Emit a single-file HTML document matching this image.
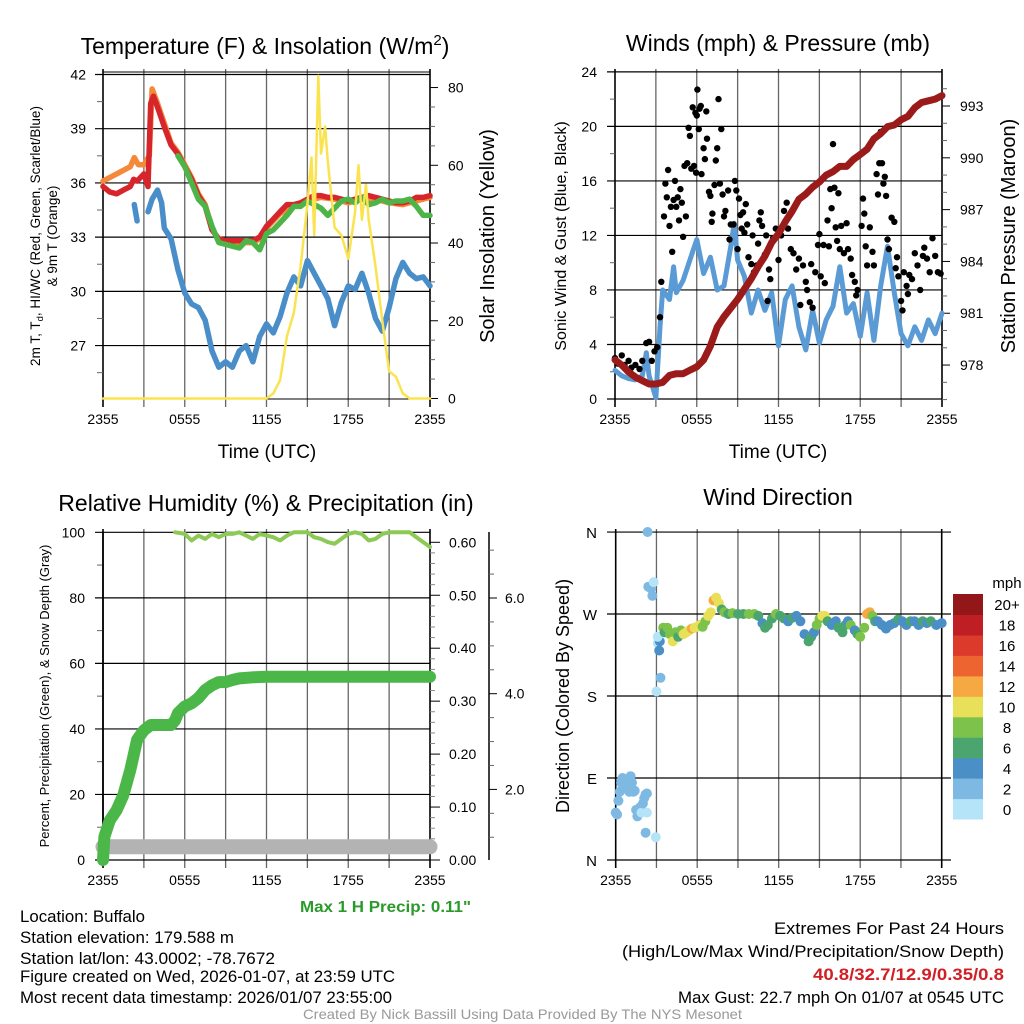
<!DOCTYPE html>
<html><head><meta charset="utf-8"><style>
html,body{margin:0;padding:0;background:#fff}
svg{display:block;font-family:"Liberation Sans",Arial,sans-serif}
</style></head><body>
<svg id="fig" width="1024" height="1024" viewBox="0 0 1024 1024" xmlns="http://www.w3.org/2000/svg">
<rect width="1024" height="1024" fill="#fff"/>
<g font-size="23" text-anchor="middle" fill="#000">
<text x="265" y="54">Temperature (F) &amp; Insolation (W/m<tspan dy="-9" font-size="15">2</tspan><tspan dy="9">)</tspan></text>
<text x="778" y="51">Winds (mph) &amp; Pressure (mb)</text>
<text x="266" y="511">Relative Humidity (%) &amp; Precipitation (in)</text>
<text x="778" y="505">Wind Direction</text>
</g>
<g id="layer"></g>
<g fill="#000" text-anchor="middle">
<text font-size="13.5" transform="translate(40,236) rotate(-90)">2m T, T<tspan font-size="9.5" dy="3">d</tspan><tspan dy="-3">, HI/WC (Red, Green, Scarlet/Blue)</tspan></text>
<text font-size="13.5" transform="translate(57,236) rotate(-90)">&amp; 9m T (Orange)</text>
<text font-size="20" transform="translate(494,236) rotate(-90)">Solar Insolation (Yellow)</text>
<text font-size="19" x="267" y="458">Time (UTC)</text>
<text font-size="16" transform="translate(566,236) rotate(-90)">Sonic Wind &amp; Gust (Blue, Black)</text>
<text font-size="20" transform="translate(1015,236) rotate(-90)">Station Pressure (Maroon)</text>
<text font-size="19" x="778" y="458">Time (UTC)</text>
<text font-size="13" transform="translate(49,696) rotate(-90)">Percent, Precipitation (Green), &amp; Snow Depth (Gray)</text>
<text font-size="18" transform="translate(569,696) rotate(-90)">Direction (Colored By Speed)</text>
<text font-size="15" x="1007" y="588">mph</text>
</g>
<g font-size="17" fill="#000">
<text x="300" y="912" font-size="16" font-weight="bold" fill="#2a9a2a" textLength="171" lengthAdjust="spacingAndGlyphs">Max 1 H Precip: 0.11"</text>
<text x="20" y="922" textLength="125" lengthAdjust="spacingAndGlyphs">Location: Buffalo</text>
<text x="20" y="943" textLength="214" lengthAdjust="spacingAndGlyphs">Station elevation: 179.588 m</text>
<text x="20" y="964" textLength="255" lengthAdjust="spacingAndGlyphs">Station lat/lon: 43.0002; -78.7672</text>
<text x="20" y="982" textLength="375" lengthAdjust="spacingAndGlyphs">Figure created on Wed, 2026-01-07, at 23:59 UTC</text>
<text x="20" y="1003" textLength="372" lengthAdjust="spacingAndGlyphs">Most recent data timestamp: 2026/01/07 23:55:00</text>
<text x="774" y="934" textLength="230" lengthAdjust="spacingAndGlyphs">Extremes For Past 24 Hours</text>
<text x="622" y="957" textLength="382" lengthAdjust="spacingAndGlyphs">(High/Low/Max Wind/Precipitation/Snow Depth)</text>
<text x="813" y="980" font-weight="bold" fill="#d02026" textLength="191" lengthAdjust="spacingAndGlyphs">40.8/32.7/12.9/0.35/0.8</text>
<text x="678" y="1003" textLength="326" lengthAdjust="spacingAndGlyphs">Max Gust: 22.7 mph On 01/07 at 0545 UTC</text>
<text x="303" y="1019" font-size="14" fill="#999" textLength="439" lengthAdjust="spacingAndGlyphs">Created By Nick Bassill Using Data Provided By The NYS Mesonet</text>
</g>
</svg>
<script>
// ---- Temperature panel data (hours since 2355 UTC) ----
const tHalf = [0,0.5,1,1.5,2,2.5,3,3.5,4,4.5,5,5.5,6,6.5,7,7.5,8,8.5,9,9.5,10,10.5,11,11.5,12,12.5,13,13.5,14,14.5,15,15.5,16,16.5,17,17.5,18,18.5,19,19.5,20,20.5,21,21.5,22,22.5,23,23.5,24];
const redTimes = [0,0.5,1,1.5,2,2.25,2.5,3,3.3,3.5,3.7,4,4.5,5,5.5,6,6.5,7,7.5,8,8.5,9,10,11,11.5,12,12.5,13,13.5,14,14.5,15,15.5,16,16.5,17,17.5,18,18.5,19,19.5,20,20.5,21,21.5,22,22.5,23,23.5,24];
const redTemp = [35.8,35.5,35.4,35.6,35.8,36.2,36.1,36.5,35.8,40.4,40.8,40.2,39.1,38.1,37.6,36.9,36.2,35.3,34.7,33.4,32.9,32.8,32.8,32.8,33.0,33.6,34.0,34.4,34.8,34.8,34.9,35.1,35.3,35.3,35.2,35.2,35.1,35.0,35.1,35.2,35.3,35.2,35.1,35.0,34.9,34.9,35.0,35.2,35.2,35.3];
const orangeTimes = [0,1,2,2.3,2.6,3,3.4,3.6,4,4.5,5,5.5,6,6.5,7,7.5,8,8.5,9,10,11,11.5,12,12.5,13,14,15,16,17,18,19,20,21,22,23,24];
const orangeTemp = [36.1,36.5,36.9,37.4,37.0,37.0,37.5,41.2,40.4,39.3,38.2,37.7,37.0,36.3,35.4,34.8,33.5,32.8,32.7,32.7,32.7,32.9,33.5,33.9,34.3,34.7,35.0,35.2,35.1,34.9,35.1,35.1,34.9,34.8,35.0,35.2];
const greenTimes = [5.5,6,6.5,7,7.5,8,8.5,9,9.5,10,10.5,11,11.5,12,12.5,13,13.5,14,14.5,15,15.5,16,16.5,17,17.5,18,18.5,19,19.5,20,20.5,21,21.5,22,22.5,23,23.5,24];
const greenTemp = [37.5,36.9,36.0,35.1,34.7,33.6,32.7,32.6,32.5,32.4,32.8,32.7,32.3,33.2,33.4,33.8,34.2,34.7,34.7,35.0,34.8,34.6,34.2,34.6,35.0,35.1,34.9,35.2,34.8,34.9,35.1,34.9,35.0,35.0,35.1,34.7,34.2,34.2];
const dewTimes = [2.3,2.5,2.6,3.3,3.6,4,4.3,4.5,5,5.5,6,6.5,7,7.5,8,8.5,9,9.5,10,10.5,11,11.5,12,12.5,13,13.5,14,14.5,15,15.5,16,16.5,17,17.5,18,18.5,19,19.5,20,20.5,21,21.5,22,22.5,23,23.5,24];
const dewTemp = [34.8,33.9,null,34.4,35.1,35.6,34.9,33.5,32.9,31.2,29.9,29.3,29.1,28.4,26.7,25.8,26.1,25.8,26.7,27.0,26.1,27.5,28.2,27.7,28.6,29.9,30.8,30.3,31.7,31.0,30.3,29.6,28.1,29.4,30.3,30.1,31.0,29.9,28.5,27.8,29.1,30.7,31.6,31.0,30.7,30.8,30.3];
const solarTimes = [0,12,12.5,13,13.5,14,14.5,15,15.3,15.5,15.8,16,16.3,16.5,17,17.5,18,18.5,18.75,19,19.3,19.5,20,20.5,21,21.5,22,22.5,24];
const solarVals = [0,0,1.3,4.7,16,22,34,50,62,42,83,63,70,61,44,42,36,48,60,46,55,46,34,20,7,5.6,1.3,0,0];
// ---- Wind panel data ----
const pressTimes = tHalf;
const pressVals = [978.3,978.0,977.6,977.3,977.1,976.9,976.9,977.0,977.4,977.5,977.5,977.7,977.9,978.3,979.1,980.2,980.8,981.3,981.8,982.4,983.0,983.7,984.3,985.1,985.6,986.3,986.9,987.6,987.9,988.3,988.6,989.0,989.2,989.5,989.5,989.9,990.2,990.5,991.1,991.4,991.8,991.9,992.2,992.4,992.9,993.2,993.3,993.4,993.6];
const windTimes = [0,0.5,1,1.5,2,2.3,2.5,3,3.3,3.5,4,4.3,4.5,5,5.5,6,6.5,7,7.5,8,8.5,8.75,9,9.5,10,10.5,11,11.5,12,12.5,13,13.5,14,14.5,15,15.5,16,16.5,17,17.5,18,18.5,19,19.5,20,20.5,21,21.5,22,22.5,23,23.5,24];
const windVals = [2.1,1.7,1.5,1.4,1.7,3.4,1.7,0.1,5.3,8.0,7.3,9.7,7.8,8.7,10.2,11.7,9.2,10.4,8.0,8.3,11.2,12.9,10.2,9.0,6.3,8.0,6.5,7.8,3.9,7.3,8.3,5.3,3.6,6.5,4.1,5.8,6.8,9.7,6.3,7.0,4.6,7.8,4.3,8.3,11.2,7.8,4.8,3.9,5.3,4.3,5.8,4.8,6.3];
const gustTimes = [0,0.2,0.5,0.7,1,1.2,1.5,1.8,2,2.3,2.5,2.7,2.9,3.1,3.3,3.4,3.6,3.7,3.8,3.9,4.0,4.1,4.2,4.3,4.4,4.5,4.6,4.7,4.8,4.9,5.0,5.1,5.2,5.3,5.4,5.5,5.6,5.7,5.8,5.9,5.95,6.0,6.05,6.15,6.2,6.3,6.35,6.5,6.6,6.7,6.75,6.9,7.0,7.1,7.15,7.3,7.4,7.5,7.6,7.7,7.8,7.9,8.0,8.1,8.3,8.4,8.5,8.7,8.8,8.9,9.0,9.1,9.2,9.3,9.4,9.5,9.6,9.7,9.8,10.0,10.1,10.2,10.4,10.5,10.6,10.7,10.8,11.0,11.1,11.2,11.3,11.4,11.6,11.8,12.0,12.2,12.4,12.6,12.7,12.9,13.1,13.3,13.5,13.6,13.8,14.0,14.1,14.3,14.4,14.5,14.7,14.9,15.0,15.1,15.3,15.4,15.6,15.7,15.8,15.9,16.0,16.1,16.2,16.3,16.4,16.5,16.6,16.8,17.0,17.1,17.3,17.4,17.6,17.7,17.8,18.1,18.2,18.3,18.4,18.5,18.7,18.9,19.0,19.2,19.3,19.4,19.5,19.6,19.7,19.8,19.9,20.0,20.1,20.3,20.5,20.6,20.7,20.8,21.0,21.1,21.2,21.4,21.5,21.6,21.8,22.0,22.2,22.4,22.6,22.7,22.9,23.1,23.3,23.5,23.7,23.9];
const gustVals = [3.0,2.6,3.2,2.5,2.8,2.3,2.5,2.2,2.8,4.1,4.2,2.8,3.5,3.8,6.0,8.6,13.4,15.8,14.8,16.8,12.7,14.1,10.8,14.6,16.0,14.1,14.8,13.1,15.4,14.4,11.9,17.1,13.4,17.3,19.9,19.3,16.9,21.4,17.1,21.0,16.6,20.8,22.7,19.8,21.3,21.5,16.5,18.4,17.6,21.1,19.1,15.2,14.9,13.0,13.6,15.7,17.5,18.4,22.0,15.8,19.8,15.0,13.4,13.8,15.3,11.7,12.8,12.8,16.0,15.3,11.0,14.7,13.5,12.5,13.7,12.2,14.3,12.8,10.4,9.9,12.0,9.3,9.8,11.4,13.1,13.7,12.7,10.6,12.0,7.2,9.5,8.8,11.8,12.5,10.2,12.0,13.8,14.4,12.5,11.0,10.7,9.5,10.3,6.9,9.8,8.6,8.0,7.1,9.9,6.7,9.3,11.3,12.1,9.0,11.3,8.5,13.1,11.2,15.4,14.0,18.7,15.5,12.6,11.6,15.1,11.0,12.7,10.7,12.9,11.0,10.3,9.1,8.6,7.6,8.0,12.7,14.7,13.6,11.2,9.8,12.6,10.8,9.8,16.5,15.0,17.3,19.6,17.3,15.8,16.3,14.9,11.7,11.0,13.3,13.0,9.6,10.4,9.0,7.2,6.5,9.3,8.3,7.7,9.1,8.8,10.7,9.8,8.0,10.5,11.1,10.3,9.3,11.8,10.5,9.3,9.2];
// ---- Humidity / precip panel data ----
const rhTimes = [5.3,6,6.5,7,7.5,8,8.5,9,9.5,10,10.5,11,11.5,12,12.5,13,13.5,14,15,15.5,16,16.5,17,17.5,18,18.5,19,19.5,20,20.5,21,21.5,22,22.5,23,23.5,24];
const rhVals = [100,99.5,97.5,99,98,99.5,98.5,99.5,99.5,100,99,98,99.5,99,98.5,97.5,99,100,100,98.5,98,97,96.5,98,99.5,100,99.5,97.5,98,99.5,100,100,100,100,98.5,97,95.5];
const precipTimes = [0,0.1,0.5,1,1.5,2,2.5,3,3.5,4,5,5.3,5.5,6,6.5,7,7.5,8,8.5,9,9.5,10,11,12,18,24];
const precipVals = [0,0.044,0.075,0.094,0.123,0.17,0.227,0.245,0.255,0.255,0.255,0.264,0.277,0.29,0.296,0.306,0.321,0.33,0.336,0.336,0.34,0.343,0.345,0.346,0.346,0.346];
const snowTimes = [0,24];
const snowVals = [0.8,0.8];
// ---- Wind direction panel data ----
const dirTimes = [0,0.1,0.2,0.3,0.4,0.5,0.6,0.7,0.8,0.9,1.0,1.1,1.2,1.3,1.4,1.5,1.6,1.7,1.8,1.9,2.0,2.1,2.2,2.3,2.2,2.3,2.35,2.4,2.6,2.7,2.8,2.95,3.0,3.1,3.2,3.25,3.3,3.1,3.5,3.6,3.8,4.0,4.2,4.4,4.6,4.8,5.0,5.2,5.4,5.6,5.8,6.0,6.2,6.4,6.6,6.8,7.0,7.2,7.4,7.6,7.8,8.0,8.3,8.6,9.0,9.4,9.8,10.2,10.5,10.8,11.0,11.2,11.5,11.8,12.1,12.4,12.7,13.0,13.3,13.6,13.9,14.2,14.4,14.6,14.8,15.0,15.2,15.4,15.6,15.9,16.2,16.4,16.7,16.9,17.1,17.3,17.6,17.8,18.0,18.3,18.5,18.7,18.9,19.1,19.3,19.6,19.9,20.2,20.5,20.8,21.1,21.4,21.7,22.0,22.3,22.6,22.9,23.2,23.6,24.0];
const dirVals = [52,50,65,75,85,90,82,88,80,78,75,92,85,75,76,55,48,55,58,52,62,68,72,73,30,52,360,300,298,290,305,25,185,238,230,240,200,245,255,250,255,248,240,250,245,252,248,250,252,254,255,256,258,256,262,268,272,285,288,282,275,272,270,271,270,270,270,270,268,260,255,258,265,270,268,265,262,266,268,262,248,240,245,250,258,265,268,268,262,258,262,255,250,258,262,258,252,248,245,255,270,272,268,262,262,258,254,258,260,264,262,258,262,262,258,262,260,262,258,260];
const dirSpeeds = [3,3,3,3,3,3,3,3,3,3,3,3,3,3,3,3,3,3,3,1,3,3,3,3,3,1,3,3,3,3,1,1,1,1,4,4,3,1,8,6,8,8,10,8,6,8,10,10,10,12,10,10,10,8,8,10,10,12,10,10,6,8,6,8,6,6,8,8,6,4,6,6,6,8,6,6,4,6,4,4,4,6,6,4,8,8,10,10,6,4,4,6,6,6,4,8,4,6,8,8,12,12,8,6,4,4,4,4,4,6,4,4,6,4,4,6,4,6,4,4];
const speedBins = ["0","2","4","6","8","10","12","14","16","18","20+"];
const speedColors = ["#b5e3f7","#7db9e3","#4a8fc6","#4ba56f","#7dc24a","#e8e059","#f6a843","#ee6430","#dc3a2a","#bf1e24","#931719"];

// ---- axis functions ----
const xA = t => 103 + t * 327 / 24;
const yT = v => 74.5 + (42 - v) * 18.07;
const ySol = w => 398.5 - w * 3.887;
const xB = t => 615 + t * 327 / 24;
const yW = v => 399 - v * 13.63;
const yP = p => 106 + (993 - p) * 17.27;
const yRH = v => 860 - v * 3.277;
const yPr = p => 860 - p * 529.5;
const ySn = s => 885.1 - s * 47.85;
const xD = t => 615.7 + t * 326 / 24;
const yDir = d => 860 - d * 0.911;

const NS = "http://www.w3.org/2000/svg";
const layer = document.getElementById("layer");
function mk(tag, attrs, parent) {
  const e = document.createElementNS(NS, tag);
  for (const k in attrs) e.setAttribute(k, attrs[k]);
  (parent || layer).appendChild(e);
  return e;
}
function grp(name) {
  const g = mk("g", {});
  
  
  return g;
}
function pathD(ts, vs, fx, fy) {
  let d = "", pen = false;
  for (let i = 0; i < ts.length; i++) {
    if (vs[i] === null) { pen = false; continue; }
    d += (pen ? "L" : "M") + fx(ts[i]).toFixed(1) + "," + fy(vs[i]).toFixed(1);
    pen = true;
  }
  return d;
}
function series(name, ts, vs, fx, fy, color, w, parent) {
  const p = mk("path", {d: pathD(ts, vs, fx, fy), fill: "none", stroke: color, "stroke-width": w, "stroke-linejoin": "round", "stroke-linecap": "round"}, parent);
  
  
  return p;
}
function line(x1, y1, x2, y2, color, w, parent) {
  return mk("line", {x1, y1, x2, y2, stroke: color, "stroke-width": w || 1}, parent);
}
function label(txt, x, y, anchor, size, parent) {
  const t = mk("text", {x, y, "text-anchor": anchor, "font-size": size || 14, fill: "#000"}, parent);
  t.textContent = txt;
  return t;
}
const xTickLabels = ["2355","0555","1155","1755","2355"];

function timeGrid(g, fx, top, bottom) {
  for (let h = 0; h <= 24; h += 3) {
    const x = fx(h);
    line(x, top - 3, x, bottom + 8, (h === 0 || h === 24) ? "#000" : "#666", (h === 0 || h === 24) ? 1.6 : 1.3, g);
  }
  for (let i = 0; i < 5; i++) label(xTickLabels[i], fx(i * 6), bottom + 25, "middle", 14, g);
}

// ===== Panel A: temperature =====
{
  const g = grp("temperature-chart");
  const ax = grp("temperature-axes"); g.appendChild(ax);
  timeGrid(ax, xA, 72, 399);
  line(103, 72, 430, 72, "#000", 1, ax);
  for (let v = 27; v <= 42; v += 3) { line(95, yT(v), 430, yT(v), "#000", 1.2, ax); label(String(v), 86, yT(v) + 5, "end", 14, ax); }
  for (let v = 25.5; v <= 42; v += 3) line(97, yT(v), 103, yT(v), "#666", 1, ax);
  for (let w = 0; w <= 80; w += 20) { line(430, ySol(w), 438, ySol(w), "#000", 1, ax); label(String(w), 448, ySol(w) + 5, "start", 14, ax); }
  for (let w = 5; w <= 80; w += 5) if (w % 20) line(430, ySol(w), 435, ySol(w), "#666", 1, ax);
  line(103, 399, 430, 399, "#000", 1, ax);
  series("orange-9m-temp-line", orangeTimes, orangeTemp, xA, yT, "#f5893a", 5.5, g);
  series("red-2m-temp-line", redTimes, redTemp, xA, yT, "#d7262b", 5.5, g);
  series("green-heat-index-line", greenTimes, greenTemp, xA, yT, "#4db448", 5.5, g);
  series("blue-dewpoint-line", dewTimes, dewTemp, xA, yT, "#4a8ec9", 5.5, g);
  series("yellow-solar-line", solarTimes, solarVals, xA, ySol, "#fbe34f", 2.5, g);
}

// ===== Panel B: winds =====
{
  const g = grp("winds-chart");
  const ax = grp("winds-axes"); g.appendChild(ax);
  timeGrid(ax, xB, 72, 399);
  for (let v = 0; v <= 24; v += 4) { line(607, yW(v), 942, yW(v), "#000", 1.2, ax); label(String(v), 597, yW(v) + 5, "end", 14, ax); }
  for (let v = 2; v <= 24; v += 4) line(610, yW(v), 615, yW(v), "#666", 1, ax);
  for (let p = 978; p <= 993; p += 3) { line(942, yP(p), 950, yP(p), "#000", 1, ax); label(String(p), 960, yP(p) + 5, "start", 14, ax); }
  for (let p = 976; p <= 994; p += 1) if ((p - 978) % 3) line(942, yP(p), 947, yP(p), "#666", 1, ax);
  series("sonic-wind-line", windTimes, windVals, xB, yW, "#5b9bd5", 5, g);
  const gd = grp("gust-points"); g.appendChild(gd);
  for (let i = 0; i < gustTimes.length; i++) {
    const c = mk("circle", {cx: xB(gustTimes[i]).toFixed(1), cy: yW(gustVals[i]).toFixed(1), r: 3.2, fill: "#000"}, gd);
    
    
  }
  series("station-pressure-line", pressTimes, pressVals, xB, yP, "#9b1b1b", 7, g);
}

// ===== Panel C: humidity & precip =====
{
  const g = grp("humidity-chart");
  const ax = grp("humidity-axes"); g.appendChild(ax);
  timeGrid(ax, xA, 532, 860);
  for (let v = 0; v <= 100; v += 20) { line(95, yRH(v), 430, yRH(v), "#000", 1.2, ax); label(String(v), 85, yRH(v) + 5, "end", 14, ax); }
  for (let v = 10; v <= 100; v += 20) line(97, yRH(v), 103, yRH(v), "#666", 1, ax);
  const prLabels = ["0.00","0.10","0.20","0.30","0.40","0.50","0.60"];
  for (let i = 0; i < prLabels.length; i++) { const y = yPr(i / 10); line(430, y, 440, y, "#000", 1, ax); label(prLabels[i], 449, y + 5, "start", 14, ax); }
  for (let p = 0.02; p < 0.62; p += 0.02) if (Math.abs(p * 10 - Math.round(p * 10)) > 0.01) line(430, yPr(p), 435, yPr(p), "#888", 1, ax);
  line(489, 532, 489, 860, "#000", 1.5, ax);
  const snLabels = ["2.0","4.0","6.0"];
  for (let i = 0; i < 3; i++) { const y = ySn((i + 1) * 2); line(489, y, 497, y, "#000", 1, ax); label(snLabels[i], 505, y + 5, "start", 14, ax); }
  for (let s = 1; s <= 7.2; s += 0.5) if (s % 2) line(489, ySn(s), 494, ySn(s), "#666", 1, ax);
  series("relative-humidity-line", rhTimes, rhVals.map(v => Math.min(v, 100)), xA, yRH, "#8dc955", 4, g);
  series("snow-depth-line", snowTimes, snowVals, xA, ySn, "#b3b3b3", 15, g);
  series("precipitation-line", precipTimes, precipVals, xA, yPr, "#4bb749", 12, g);
  line(103, 532, 103, 860, "#000", 1.6, ax);
}

// ===== Panel D: wind direction =====
{
  const g = grp("wind-direction-chart");
  const ax = grp("direction-axes"); g.appendChild(ax);
  timeGrid(ax, xD, 532, 860);
  const dirLabels = ["N","E","S","W","N"];
  for (let i = 0; i < 5; i++) { const y = yDir(i * 90); line(607, y, 951, y, "#000", 1.2, ax); label(dirLabels[i], 597, y + 6, "end", 15, ax); }
  const pts = grp("direction-points"); g.appendChild(pts);
  for (let i = 0; i < dirTimes.length; i++) {
    const bin = Math.min(10, Math.floor(dirSpeeds[i] / 2));
    const c = mk("circle", {cx: xD(dirTimes[i]).toFixed(1), cy: yDir(dirVals[i]).toFixed(1), r: 5, fill: speedColors[bin]}, pts);
    
    
  }
  const cb = grp("speed-colorbar"); g.appendChild(cb);
  const bh = 225 / speedBins.length;
  for (let i = 0; i < speedBins.length; i++) {
    const y = 819 - (i + 1) * bh;
    const r = mk("rect", {x: 953, y: y.toFixed(1), width: 30, height: (bh + 0.5).toFixed(1), fill: speedColors[i]}, cb);
    
    
    const t = label(speedBins[i], 1007, y + bh / 2 + 6, "middle", 15, cb);
    
    
  }
}
</script>
</body></html>
